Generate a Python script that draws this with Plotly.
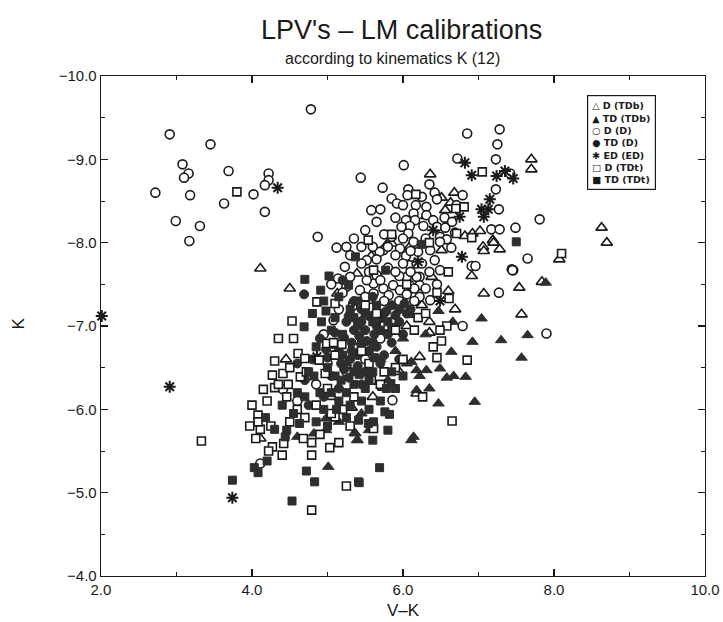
import plotly.graph_objects as go

# ---------------- data (V-K, K) ----------------
d_tdb = [  # D (TDb) open triangles
    (4.11,-7.69),(4.50,-7.45),(5.13,-7.39),(6.36,-8.82),(7.70,-9.00),(7.70,-8.88),(6.51,-8.54),(6.68,-8.60),
    (6.63,-8.48),(6.56,-8.39),(6.82,-8.08),(6.92,-8.11),(7.02,-8.14),(7.19,-8.03),(7.06,-7.95),(7.07,-7.90),
    (7.28,-7.92),(6.91,-7.60),(6.51,-7.91),(8.63,-8.18),(8.70,-8.00),(8.07,-7.80),(7.84,-7.53),(7.07,-7.39),
    (7.54,-7.46),(7.57,-7.14),(6.69,-7.20),(6.60,-7.42),(6.38,-7.59),(6.35,-7.05),(6.35,-6.92),(6.22,-6.63),
    (5.74,-6.26),(4.11,-5.65),(5.32,-6.02),(6.18,-6.19),(5.58,-7.84),(5.39,-7.63),(5.78,-7.97),(5.85,-7.99),
    (6.31,-8.32),(6.09,-7.95),(7.20,-8.00),(5.95,-6.45),(5.80,-6.95),(6.05,-7.00),(5.30,-6.45),(6.25,-7.25),
    (5.60,-6.15),(5.05,-6.15),(4.45,-6.60),
]
td_tdb = [  # TD (TDb) filled triangles
    (7.04,-7.09),(7.65,-6.89),(7.30,-6.83),(6.92,-6.81),(7.57,-6.62),(6.64,-6.69),(6.83,-6.39),(6.47,-7.18),
    (6.66,-7.05),(6.11,-6.57),(6.49,-6.49),(6.18,-6.47),(6.31,-6.47),(6.22,-6.40),(6.58,-6.38),(6.67,-6.40),
    (6.18,-6.23),(6.11,-7.13),(6.47,-6.07),(6.95,-6.09),(6.14,-5.67),(6.11,-5.63),(5.39,-5.63),(5.36,-5.72),
    (5.45,-5.95),(5.01,-5.31),(4.82,-5.71),(4.98,-5.75),(4.60,-5.67),(5.37,-5.71),(5.40,-5.63),(4.98,-5.89),
    (7.89,-7.52),(5.90,-6.70),(6.00,-6.85),(5.70,-6.60),(6.05,-6.55),(5.15,-5.85),(5.80,-6.35),(6.30,-6.90),
    (5.55,-5.75),(6.35,-6.25),(5.25,-6.55),
]
d_d = [  # D (D) open circles
    (2.91,-9.30),(3.45,-9.18),(3.08,-8.94),(3.16,-8.83),(3.10,-8.78),(3.69,-8.86),(4.22,-8.83),(4.22,-8.75),
    (4.17,-8.69),(2.72,-8.60),(3.18,-8.57),(4.02,-8.58),(3.63,-8.47),(4.17,-8.37),(2.99,-8.26),(3.31,-8.20),
    (3.17,-8.02),(4.78,-9.60),(4.87,-8.07),(6.72,-9.01),(7.23,-9.00),(6.01,-8.93),(5.44,-8.78),(5.73,-8.66),
    (6.07,-8.64),(6.06,-8.57),(5.85,-8.53),(5.92,-8.47),(5.58,-8.39),(6.17,-8.45),(6.42,-8.60),(6.45,-8.52),
    (6.79,-8.57),(6.71,-8.45),(7.23,-8.64),(7.27,-8.40),(7.42,-8.83),(6.31,-8.43),(6.31,-8.33),(7.81,-8.28),
    (6.14,-8.35),(6.16,-8.27),(6.04,-8.27),(6.09,-8.20),(5.98,-8.19),(6.27,-8.20),(6.40,-8.27),(6.45,-8.19),
    (6.56,-8.18),(6.69,-8.12),(7.17,-8.16),(7.28,-8.16),(7.49,-8.18),(7.65,-7.81),(7.44,-7.68),(6.91,-7.72),
    (6.96,-7.72),(5.12,-7.94),(6.49,-8.07),(6.58,-8.04),(6.64,-7.94),(7.28,-9.36),(7.25,-9.18),
    (6.85,-9.31),(7.46,-7.67),(5.14,-7.57),(6.07,-8.11),(6.14,-8.01),(5.96,-7.93),(6.04,-7.84),(6.20,-7.89),
    (6.36,-7.91),(6.49,-8.01),(5.85,-8.07),(5.74,-7.91),(5.69,-7.89),(6.09,-7.73),(6.18,-7.75),(6.42,-7.79),
    (6.49,-7.67),(6.22,-7.59),(5.52,-7.79),(5.23,-7.71),(5.34,-7.27),(5.43,-7.43),(5.61,-7.39),(5.61,-7.51),
    (5.74,-7.45),(5.87,-7.49),(5.81,-7.37),(5.96,-7.43),(6.09,-7.49),(6.22,-7.49),(6.22,-7.35),(6.36,-7.31),
    (6.05,-7.59),(6.18,-7.59),(5.65,-7.61),(5.52,-7.55),(5.30,-7.59),(5.25,-7.47),(7.27,-7.40),(7.45,-7.67),
    (6.79,-7.00),(5.86,-6.11),(5.08,-7.07),(5.33,-7.23),(4.41,-6.24),(5.34,-6.75),(4.11,-5.35),(7.90,-6.91),
    (5.30,-7.85),(5.45,-7.95),(5.55,-7.65),(5.65,-7.80),(5.70,-7.55),(5.80,-7.70),(5.90,-7.85),(5.95,-7.60),
    (6.00,-7.75),(6.10,-7.65),(6.15,-7.45),(6.25,-7.75),(6.30,-7.45),(5.50,-7.35),(5.75,-7.30),(5.85,-7.05),
    (6.15,-7.30),(5.40,-7.15),(5.20,-7.40),(5.05,-7.50),(5.00,-6.55),(5.25,-6.45),(4.85,-6.30),(5.50,-6.60),
    (4.60,-6.10),(5.70,-6.85),(4.95,-6.90),(5.15,-7.20),(5.35,-8.05),(5.50,-8.15),(5.65,-8.25),(5.75,-8.10),
    (5.90,-8.30),(6.00,-8.05),(5.80,-7.95),(6.10,-7.90),(6.30,-8.05),(6.35,-7.65),(6.45,-7.50),(5.45,-7.75),
    (5.60,-7.95),(5.25,-7.95),(5.70,-8.40),(6.25,-8.55),(6.35,-8.70),(6.55,-8.30),(6.65,-8.25),(6.00,-8.45),
    (5.95,-7.30),(6.05,-7.38),(5.58,-7.22),(5.90,-7.65),
]
td_d = [  # TD (D) filled circles
    (4.69,-7.38),(5.85,-7.25),(5.95,-7.20),(6.02,-7.27),(5.90,-7.13),(6.05,-7.15),(5.78,-7.18),(5.10,-6.92),
    (5.22,-6.86),(5.32,-6.80),(5.00,-6.62),(5.40,-6.52),(4.70,-6.35),(5.50,-6.95),(5.60,-6.80),(5.45,-7.05),
    (5.65,-7.00),(5.55,-6.70),(5.25,-7.05),(5.35,-6.95),(4.90,-6.85),(5.15,-6.70),(5.70,-6.55),(5.05,-6.40),
    (5.30,-6.60),(5.80,-6.90),(4.60,-6.55),(5.45,-6.30),(4.95,-6.15),(5.60,-7.35),(5.35,-7.30),(5.20,-7.55),
    (4.75,-6.05),(5.15,-6.25),(5.75,-6.65),(6.00,-6.90),(5.95,-6.60),(4.80,-6.60),(5.28,-6.38),(5.45,-7.20),
    (5.55,-7.12),(5.72,-7.08),(5.88,-6.98),(5.62,-6.90),(5.42,-6.88),(5.52,-6.82),(5.32,-6.70),(5.18,-6.55),
    (5.40,-6.65),(5.65,-6.75),(5.85,-6.80),(5.75,-7.15),(5.95,-7.05),(6.10,-7.20),(5.28,-7.12),(5.08,-6.78),
    (4.98,-6.72),(5.22,-6.48),(5.50,-6.45),
]
ed_ed = [  # ED (ED) stars
    (2.01,-7.12),(2.91,-6.27),(3.74,-4.94),(4.34,-8.66),(6.82,-8.96),(6.91,-8.81),(7.24,-8.80),(7.35,-8.86),
    (7.46,-8.77),(7.15,-8.52),(7.04,-8.40),(7.13,-8.40),(7.07,-8.31),(6.75,-8.31),(6.78,-7.83),(6.49,-7.30),
    (4.86,-6.63),(6.20,-7.77),(6.40,-8.15),
]
d_tdt = [  # D (TDt) open squares
    (3.80,-8.61),(7.05,-8.85),(6.17,-8.58),(6.70,-8.41),(6.91,-8.06),(6.71,-8.11),(8.10,-7.87),(6.85,-6.59),
    (6.61,-7.33),(6.58,-7.00),(6.49,-6.95),(6.51,-6.82),(6.40,-6.75),(6.45,-6.62),(5.58,-6.35),(6.65,-5.86),
    (5.61,-5.77),(6.26,-6.15),(4.86,-7.29),(5.10,-7.27),(4.53,-7.06),(4.30,-6.58),(4.61,-6.67),(4.70,-6.61),
    (4.89,-6.59),(4.27,-6.41),(4.41,-6.43),(4.15,-6.24),(4.30,-6.26),(4.48,-6.30),(4.46,-6.15),(4.64,-6.39),
    (4.72,-6.45),(4.97,-6.43),(4.99,-6.79),(5.08,-6.80),(5.19,-6.78),(3.33,-5.62),(4.79,-4.79),(5.25,-5.08),
    (4.79,-5.45),(5.03,-5.54),(4.79,-5.60),(4.68,-5.65),(4.42,-5.59),(4.11,-5.76),(4.08,-5.93),(4.08,-5.85),
    (4.27,-5.55),(4.22,-5.50),(5.10,-5.91),(5.20,-6.00),(5.35,-6.15),(5.00,-6.25),(5.55,-6.55),(5.75,-6.45),
    (5.90,-6.50),(5.10,-6.65),(5.45,-6.70),(4.85,-6.05),(5.05,-5.95),(5.75,-7.00),(5.65,-7.15),(5.50,-7.25),
    (5.90,-6.95),(6.15,-6.95),(6.20,-7.10),(6.00,-6.60),(5.70,-6.30),(5.54,-8.03),(5.61,-7.67),(6.81,-8.43),
    (4.35,-6.85),(4.55,-6.85),(4.00,-6.05),(4.20,-6.10),(4.05,-5.65),(3.97,-5.80),(4.35,-6.30),(4.50,-6.50),
    (4.60,-6.00),(4.25,-5.80),(4.50,-5.85),(4.90,-5.70),(5.15,-5.60),(5.30,-5.80),(4.70,-5.90),(4.40,-5.45),
    (6.05,-7.50),(6.30,-7.15),(6.45,-7.40),(6.60,-7.65),(5.85,-8.10),(6.35,-8.00),
]
td_tdt = [  # TD (TDt) filled squares
    (4.70,-7.56),(4.91,-7.43),(5.28,-7.49),(4.98,-7.18),(4.69,-6.99),(7.50,-8.01),(3.74,-5.15),(4.53,-4.90),
    (4.72,-5.26),(4.83,-5.13),(5.41,-5.13),(4.63,-5.83),(4.46,-5.75),(4.44,-5.67),(4.30,-5.76),(4.18,-5.90),
    (4.20,-5.38),(4.03,-5.30),(4.08,-5.24),(5.80,-5.75),(5.60,-5.63),(5.69,-5.30),(5.42,-5.12),(5.54,-5.83),
    (5.61,-5.85),(5.41,-5.87),(5.76,-5.97),(5.82,-5.94),(5.84,-6.31),(5.00,-6.50),(5.10,-6.40),(5.25,-6.20),
    (5.35,-6.30),(5.50,-6.25),(5.30,-6.05),(5.15,-6.10),(4.90,-6.20),(4.95,-6.00),(5.60,-6.45),(5.70,-6.10),
    (5.20,-6.90),(5.40,-7.00),(5.60,-7.05),(4.85,-6.75),(5.05,-6.95),(5.45,-6.80),(4.75,-6.45),(4.60,-6.20),
    (5.55,-6.00),(5.85,-6.45),(4.55,-5.95),(4.40,-6.05),(4.85,-5.85),(5.00,-5.80),(5.25,-5.90),(5.90,-6.25),
    (6.00,-6.40),(5.65,-7.25),(5.10,-7.10),(4.92,-7.05),(5.30,-7.20),(5.80,-7.05),(6.24,-7.98),(5.37,-7.83),
    (5.77,-7.67),(5.35,-7.10),(5.50,-7.15),(5.70,-6.95),(5.62,-6.62),(5.42,-6.42),(5.18,-6.35),(5.05,-6.20),
    (5.35,-6.45),(5.78,-6.25),(4.82,-6.40),(4.70,-6.15),(5.12,-6.00),(5.45,-6.10),(5.55,-6.35),(5.20,-6.65),
    (5.40,-7.30),(5.15,-7.35),(4.80,-7.15),(4.95,-7.30),(5.02,-7.60),
]

series_names = ["D (TDb)", "TD (TDb)", "D (D)", "TD (D)", "ED (ED)", "D (TDt)", "TD (TDt)"]
legend_glyphs = ["△", "▲", "○", "●", "✱", "□", "■"]
x_ticks = [2.0, 4.0, 6.0, 8.0, 10.0]
y_ticks = [-10.0, -9.0, -8.0, -7.0, -6.0, -5.0, -4.0]

# ---------------- styles ----------------
INK = "#1a1a1a"
FILL = "#2e2e2e"
styles = [
    dict(symbol="triangle-up", size=10, color="white", line=dict(color=INK, width=1.6)),
    dict(symbol="triangle-up", size=10, color=FILL, line=dict(color=FILL, width=1)),
    dict(symbol="circle", size=9, color="white", line=dict(color=INK, width=1.6)),
    dict(symbol="circle", size=9, color=FILL, line=dict(color=FILL, width=1)),
    dict(symbol="asterisk-open", size=10, color=INK, line=dict(color=INK, width=2)),
    dict(symbol="square", size=8, color="white", line=dict(color=INK, width=1.6)),
    dict(symbol="square", size=8, color=FILL, line=dict(color=FILL, width=1)),
]
data = [d_tdb, td_tdb, d_d, td_d, ed_ed, d_tdt, td_tdt]

fig = go.Figure()
for name, pts, st in zip(series_names, data, styles):
    fig.add_trace(go.Scatter(
        x=[p[0] for p in pts], y=[p[1] for p in pts], mode="markers", name=name,
        marker=st, cliponaxis=False, showlegend=False, hoverinfo="skip",
    ))

FONT = "Liberation Sans, Arial, sans-serif"
axis_common = dict(
    showgrid=False, zeroline=False, showline=True, linecolor=INK, linewidth=1.3,
    mirror="ticks", ticks="inside", ticklen=7, tickwidth=1.2, tickcolor=INK,
    tickfont=dict(family=FONT, size=15, color=INK), tickformat=".1f", automargin=False,
)
fig.update_xaxes(range=[2, 10], tickvals=x_ticks,
                 minor=dict(dtick=1, ticks="inside", ticklen=4, tickcolor=INK, tickwidth=1),
                 **axis_common)
fig.update_yaxes(range=[-4, -10], tickvals=y_ticks,
                 minor=dict(dtick=0.5, ticks="inside", ticklen=4, tickcolor=INK, tickwidth=1),
                 **axis_common)

legend_text = "<br>".join(f"<b>{g} {n}</b>" for g, n in zip(legend_glyphs, series_names))

fig.update_layout(
    width=723, height=622,
    margin=dict(l=101, r=18, t=76, b=46, autoexpand=False),
    paper_bgcolor="white", plot_bgcolor="white",
    font=dict(family=FONT, color=INK),
    showlegend=False,
    hovermode=False,
    annotations=[
        dict(text="LPV's – LM calibrations", xref="paper", yref="paper", x=0.498, y=1.0, yshift=46,
             showarrow=False, xanchor="center", yanchor="middle", font=dict(family=FONT, size=27, color=INK)),
        dict(text="according to kinematics K (12)", xref="paper", yref="paper", x=0.483, y=1.0, yshift=18,
             showarrow=False, xanchor="center", yanchor="middle", font=dict(family=FONT, size=16, color=INK)),
        dict(text="V–K", xref="paper", yref="paper", x=0.5, y=0, yshift=-34,
             showarrow=False, xanchor="center", yanchor="middle", font=dict(family=FONT, size=17, color=INK)),
        dict(text="K", xref="paper", yref="paper", x=0, xshift=-83, y=0.505, textangle=-90,
             showarrow=False, xanchor="center", yanchor="middle", font=dict(family=FONT, size=17, color=INK)),
        dict(text=legend_text, xref="paper", yref="paper", x=0.805, y=0.962, xanchor="left", yanchor="top",
             showarrow=False, align="left", bgcolor="white", bordercolor=INK, borderwidth=1.2, borderpad=4,
             font=dict(family="DejaVu Sans, sans-serif", size=9.5, color=INK)),
    ],
)

fig.write_html("out.html", config={"displayModeBar": False, "staticPlot": True},
               post_script="document.body.style.margin='0';document.body.style.padding='0';")
